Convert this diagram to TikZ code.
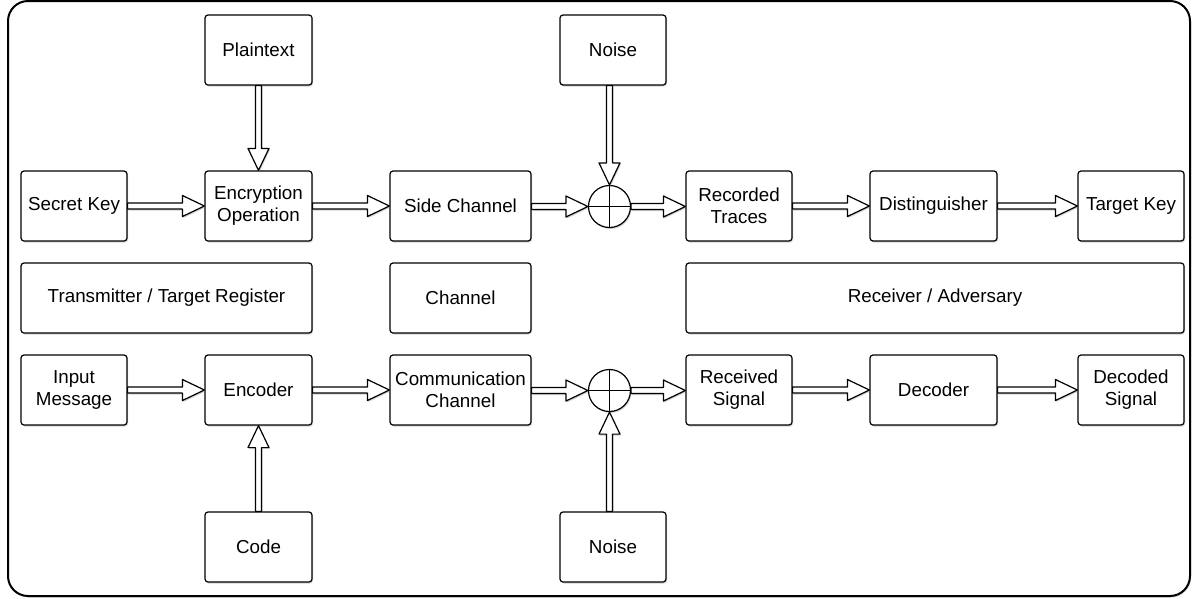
\documentclass[tikz,border=0pt]{standalone}
\usepackage{fontspec}
\setmainfont{Liberation Sans}
\usetikzlibrary{calc,shadows}
\begin{document}
\begin{tikzpicture}[x=1pt,y=-1pt,
  shade/.style={drop shadow={shadow xshift=1pt,shadow yshift=-1.5pt,opacity=0.35}},
  box/.style={draw,line width=1.2pt,rounded corners=3pt,fill=white,align=center,
    inner sep=0pt,minimum height=70pt,font=\fontsize{18.8}{22}\selectfont,shade},
  sumnode/.style={draw,circle,line width=1.2pt,fill=white,minimum size=42pt,inner sep=0pt,shade,
    path picture={\draw[line width=1.2pt] (path picture bounding box.north) -- (path picture bounding box.south)
      (path picture bounding box.west) -- (path picture bounding box.east);}},
  fatarrow/.style={draw,fill=white,line width=1.2pt,line join=round,shade,
    to path={let \p1=(\tikztostart), \p2=(\tikztotarget),
      \p3=($(\tikztotarget)!22pt!(\tikztostart)$) in
      ($(\p1)!3pt!90:(\p2)$) -- ($(\p3)!3pt!90:(\p2)$) -- ($(\p3)!10.5pt!90:(\p2)$) -- (\p2)
      -- ($(\p3)!10.5pt!-90:(\p2)$) -- ($(\p3)!3pt!-90:(\p2)$) -- ($(\p1)!3pt!-90:(\p2)$) -- cycle}}]
\useasboundingbox (0,0) rectangle (1193,598);
\path[draw,fill=white,line width=2pt,rounded corners=20pt,shade] (8,1) rectangle (1190,596);

% row 1
\node[box,minimum width=107pt] (pt) at (258.5,50) {Plaintext};
\node[box,minimum width=106pt] (nt) at (613,50) {Noise};
\node[box,minimum width=106pt] (sk) at (74,206) {Secret Key};
\node[box,minimum width=107pt] (enc) at (258.5,206) {Encryption\\Operation};
\node[box,minimum width=141pt] (sc) at (460.5,206) {Side Channel};
\node[sumnode] (s1) at (609.5,206.5) {};
\node[box,minimum width=106pt] (rt) at (739,206) {Recorded\\Traces};
\node[box,minimum width=127pt] (dist) at (933.5,206) {Distinguisher};
\node[box,minimum width=106pt] (tk) at (1131,206) {Target Key};
% row 2
\node[box,minimum width=291pt] (tx) at (166.5,298) {Transmitter / Target Register};
\node[box,minimum width=141pt] (ch) at (460.5,298) {Channel};
\node[box,minimum width=498pt] (rx) at (935,298) {Receiver / Adversary};
% row 3
\node[box,minimum width=106pt] (im) at (74,390) {Input\\Message};
\node[box,minimum width=107pt] (ecd) at (258.5,390) {Encoder};
\node[box,minimum width=141pt] (cc) at (460.5,390) {Communication\\Channel};
\node[sumnode] (s2) at (609.5,390.5) {};
\node[box,minimum width=106pt] (rs) at (739,390) {Received\\Signal};
\node[box,minimum width=127pt] (dec) at (933.5,390) {Decoder};
\node[box,minimum width=106pt] (dsg) at (1131,390) {Decoded\\Signal};
% row 4
\node[box,minimum width=107pt] (code) at (258.5,547) {Code};
\node[box,minimum width=106pt] (nb) at (613,547) {Noise};

% arrows
\path[fatarrow] (pt.south) to (enc.north);
\path[fatarrow] (sk.east) to (enc.west);
\path[fatarrow] (enc.east) to (sc.west);
\path[fatarrow] (sc.east |- s1) to (s1.west);
\path[fatarrow] (s1 |- nt.south) to (s1.north);
\path[fatarrow] (s1.east) to (rt.west |- s1);
\path[fatarrow] (rt.east) to (dist.west);
\path[fatarrow] (dist.east) to (tk.west);

\path[fatarrow] (im.east) to (ecd.west);
\path[fatarrow] (code.north) to (ecd.south);
\path[fatarrow] (ecd.east) to (cc.west);
\path[fatarrow] (cc.east |- s2) to (s2.west);
\path[fatarrow] (s2 |- nb.north) to (s2.south);
\path[fatarrow] (s2.east) to (rs.west |- s2);
\path[fatarrow] (rs.east) to (dec.west);
\path[fatarrow] (dec.east) to (dsg.west);
\end{tikzpicture}
\end{document}
